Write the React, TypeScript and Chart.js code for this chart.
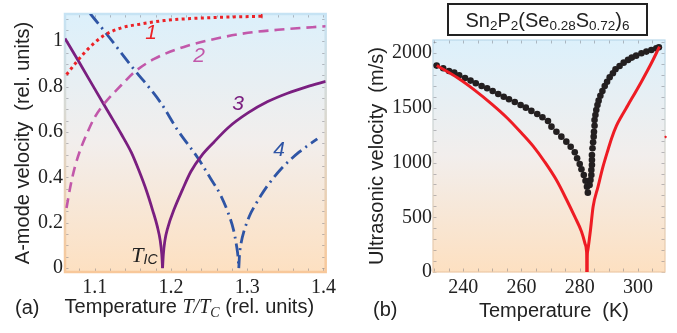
import React, { useEffect, useRef } from "react";
import { Chart, registerables } from "chart.js";
Chart.register(...registerables);

const SANS = "Liberation Sans";
const SERIF = "Liberation Serif";

// ---------------- Panel (a) data ----------------
const aXTicks = [1.1, 1.2, 1.3, 1.4];
const aYTicks = [0, 0.2, 0.4, 0.6, 0.8, 1];

const c1X = [1.063, 1.076, 1.091, 1.111, 1.135, 1.161, 1.191, 1.226, 1.27, 1.319];
const c1Y = [0.853, 0.908, 0.965, 1.023, 1.059, 1.076, 1.091, 1.1, 1.106, 1.11];
const c1TipX = [1.319, 1.3191];
const c1TipY = [1.104, 1.13];

const c2X = [1.063, 1.068, 1.074, 1.082, 1.09, 1.1, 1.113, 1.135, 1.152, 1.178, 1.217, 1.26, 1.301, 1.35, 1.403];
const c2Y = [0.265, 0.359, 0.446, 0.53, 0.595, 0.665, 0.727, 0.807, 0.864, 0.922, 0.975, 1.012, 1.037, 1.053, 1.066];

const c3LX = [1.061, 1.08, 1.1, 1.12, 1.135, 1.148, 1.158, 1.168, 1.176, 1.182, 1.186, 1.188, 1.189];
const c3LY = [1.012, 0.905, 0.79, 0.676, 0.59, 0.51, 0.43, 0.34, 0.255, 0.185, 0.12, 0.06, 0];
const c3RX = [1.189, 1.19, 1.192, 1.196, 1.204, 1.215, 1.226, 1.24, 1.256, 1.275, 1.301, 1.327, 1.353, 1.379, 1.403];
const c3RY = [0, 0.06, 0.12, 0.18, 0.258, 0.345, 0.425, 0.495, 0.554, 0.619, 0.684, 0.734, 0.771, 0.8, 0.823];

const c4LX = [1.094, 1.113, 1.149, 1.187, 1.208, 1.236, 1.252, 1.265, 1.275, 1.282, 1.286, 1.288, 1.289];
const c4LY = [1.122, 1.043, 0.887, 0.727, 0.612, 0.482, 0.395, 0.323, 0.244, 0.17, 0.1, 0.05, 0];
const c4RX = [1.289, 1.29, 1.292, 1.296, 1.303, 1.31, 1.318, 1.327, 1.345, 1.368, 1.392];
const c4RY = [0, 0.06, 0.11, 0.165, 0.23, 0.275, 0.32, 0.365, 0.439, 0.511, 0.57];

const aLabels = ["1", "2", "3", "4"];
const aLabelX = [1.174, 1.237, 1.288, 1.342];
const aLabelY = [1.037, 0.936, 0.724, 0.518];
const aLabelColors = ["#ec2227", "#c258aa", "#7a1f80", "#2f55a5"];
const tIcX = 1.148;
const tIcY = 0.028;

// ---------------- Panel (b) data ----------------
const bXTicks = [240, 260, 280, 300];
const bYTicks = [0, 500, 1000, 1500, 2000];

const redLX = [230.9, 238, 244, 250, 255, 260, 264, 268, 272, 275.5, 278.3, 280.6, 281.8, 282.3, 282.45, 282.5];
const redLY = [1887, 1775, 1660, 1530, 1410, 1270, 1150, 1005, 840, 660, 505, 370, 262, 200, 120, 0];
const redRX = [282.5, 282.55, 282.8, 283.7, 284.6, 286.3, 288, 289.7, 291, 292.6, 294.5, 296.6, 301.2, 304.6, 307.4];
const redRY = [0, 120, 200, 384, 597, 780, 962, 1115, 1225, 1335, 1430, 1526, 1739, 1907, 2059];
const redEdgeX = [309.2, 309.8];
const redEdgeY = [1240, 1228];

const dotT = [230.85, 233.1, 235.1, 236.9, 238.6, 240.6, 242.5, 244.3, 246.3, 248.2, 250.1, 252.0, 253.9, 255.7, 257.7, 259.7, 261.5, 263.4, 265.4, 267.2, 269.1, 270.3, 272.0, 273.7, 275.4, 276.9, 278.3, 279.1, 280.0, 280.6, 281.4, 282.0, 282.5, 282.8,
  283.4, 283.7, 284.0, 284.0, 284.2, 284.2, 284.2, 284.4, 284.6, 284.8, 284.9, 285.1, 285.1, 285.4, 285.7, 286.1, 286.5, 287.1, 287.8, 288.6, 289.4, 290.3, 291.4, 292.3, 293.7, 295.1, 296.6, 297.9, 299.4, 301.2, 302.9, 304.6, 306.3, 307.2];
const dotV = [1886, 1862, 1837, 1822, 1798, 1773, 1749, 1725, 1700, 1679, 1654, 1627, 1602, 1578, 1554, 1526, 1502, 1472, 1444, 1414, 1380, 1328, 1282, 1237, 1191, 1145, 1094, 1039, 987, 939, 887, 834, 780, 725,
  795, 841, 887, 932, 978, 1024, 1069, 1131, 1185, 1237, 1282, 1337, 1389, 1435, 1481, 1526, 1566, 1611, 1654, 1700, 1739, 1780, 1816, 1853, 1883, 1913, 1938, 1959, 1977, 1999, 2014, 2029, 2045, 2054];

// ---------------- helpers ----------------
function pts(xs: number[], ys: number[]) {
  return xs.map((x, i) => ({ x, y: ys[i] }));
}
const fmt = (v: number) => String(Math.round(v * 10) / 10);

type Seg = { t: string; font: string; dy?: number };
function drawRich(ctx: CanvasRenderingContext2D, segs: Seg[], x0: number, baseline: number, color: string, align: "left" | "center") {
  let total = 0;
  for (const s of segs) {
    ctx.font = s.font;
    total += ctx.measureText(s.t).width;
  }
  let x = align === "center" ? x0 - total / 2 : x0;
  ctx.fillStyle = color;
  ctx.textAlign = "left";
  ctx.textBaseline = "alphabetic";
  for (const s of segs) {
    ctx.font = s.font;
    ctx.fillText(s.t, x, baseline + (s.dy || 0));
    x += ctx.measureText(s.t).width;
  }
}

function makeBgPlugin(frameTop: string, frameBottom: string, frameWidth: number, xStep: number, yStep: number) {
  return {
    id: "bgFrame",
    beforeDatasetsDraw(chart: any) {
      const { ctx, chartArea: a, scales } = chart;
      ctx.save();
      const g = ctx.createLinearGradient(0, a.top, 0, a.bottom);
      g.addColorStop(0, "#dcf0fb");
      g.addColorStop(0.5, "#f2eeec");
      g.addColorStop(1, "#fde0c1");
      ctx.fillStyle = g;
      ctx.fillRect(a.left, a.top, a.right - a.left, a.bottom - a.top);
      ctx.strokeStyle = "rgba(110,110,120,0.45)";
      ctx.lineWidth = 1;
      const xs = scales.x, ys = scales.y;
      const x0 = Math.ceil(xs.min / xStep) * xStep;
      ctx.beginPath();
      for (let v = x0; v <= xs.max + 1e-9; v += xStep) {
        const p = Math.round(xs.getPixelForValue(v)) + 0.5;
        ctx.moveTo(p, a.bottom); ctx.lineTo(p, a.bottom - 3.5);
        ctx.moveTo(p, a.top); ctx.lineTo(p, a.top + 3.5);
      }
      const y0 = Math.ceil(ys.min / yStep) * yStep;
      for (let v = y0; v <= ys.max + 1e-9; v += yStep) {
        const p = Math.round(ys.getPixelForValue(v)) + 0.5;
        ctx.moveTo(a.left, p); ctx.lineTo(a.left + 3.5, p);
        ctx.moveTo(a.right, p); ctx.lineTo(a.right - 3.5, p);
      }
      ctx.stroke();
      const fg = ctx.createLinearGradient(0, a.top, 0, a.bottom);
      fg.addColorStop(0, frameTop);
      fg.addColorStop(1, frameBottom);
      ctx.strokeStyle = fg;
      ctx.lineWidth = frameWidth;
      ctx.strokeRect(a.left, a.top, a.right - a.left, a.bottom - a.top);
      ctx.restore();
    },
  };
}

const textA = {
  id: "textA",
  afterDraw(chart: any) {
    const { ctx, chartArea: a, scales } = chart;
    ctx.save();
    const cx = (a.left + a.right) / 2 - 6;
    drawRich(ctx, [
      { t: "Temperature ", font: `20px ${SANS}` },
      { t: "T/T", font: `italic 20px ${SERIF}` },
      { t: "C", font: `italic 14px ${SERIF}`, dy: 4 },
      { t: " (rel. units)", font: `20px ${SANS}` },
    ], cx, 313, "#222", "center");
    drawRich(ctx, [{ t: "(a)", font: `20px ${SANS}` }], 15, 314, "#222", "left");
    ctx.textAlign = "center";
    ctx.textBaseline = "middle";
    ctx.font = `italic 21px ${SANS}`;
    aLabels.forEach((t, i) => {
      ctx.fillStyle = aLabelColors[i];
      ctx.fillText(t, scales.x.getPixelForValue(aLabelX[i]), scales.y.getPixelForValue(aLabelY[i]));
    });
    drawRich(ctx, [
      { t: "T", font: `italic 22px ${SERIF}` },
      { t: "IC", font: `italic 14px ${SANS}`, dy: 2 },
    ], scales.x.getPixelForValue(tIcX), scales.y.getPixelForValue(tIcY), "#222", "left");
    ctx.restore();
  },
};

const textB = {
  id: "textB",
  afterDraw(chart: any) {
    const { ctx, chartArea: a } = chart;
    ctx.save();
    const cx = (a.left + a.right) / 2;
    const bw = 199, bh = 31;
    ctx.fillStyle = "#ffffff";
    ctx.fillRect(cx - 1.5 - bw / 2, 4, bw, bh);
    ctx.strokeStyle = "#222";
    ctx.lineWidth = 2;
    ctx.strokeRect(cx - 1.5 - bw / 2, 4, bw, bh);
    const big = `20px ${SANS}`, sub = `13.5px ${SANS}`;
    drawRich(ctx, [
      { t: "Sn", font: big }, { t: "2", font: sub, dy: 3 },
      { t: "P", font: big }, { t: "2", font: sub, dy: 3 },
      { t: "(Se", font: big }, { t: "0.28", font: sub, dy: 3 },
      { t: "S", font: big }, { t: "0.72", font: sub, dy: 3 },
      { t: ")", font: big }, { t: "6", font: sub, dy: 3 },
    ], cx - 1.5, 27, "#222", "center");
    drawRich(ctx, [{ t: "Temperature  (K)", font: `20px ${SANS}` }], cx + 5, 317, "#222", "center");
    drawRich(ctx, [{ t: "(b)", font: `20px ${SANS}` }], 33, 316, "#222", "left");
    ctx.restore();
  },
};

const tickFont = { family: SERIF, size: 20, style: "normal" as const, weight: "normal" as const };

function axisCommon(ticks: number[], min: number, max: number) {
  return {
    type: "linear" as const,
    min,
    max,
    afterBuildTicks: (s: any) => { s.ticks = ticks.map((v) => ({ value: v })); },
    grid: { display: false, drawTicks: false },
    border: { display: false },
  };
}

export default function App() {
  const refA = useRef<HTMLCanvasElement>(null);
  const refB = useRef<HTMLCanvasElement>(null);

  useEffect(() => {
    const RED = "#ec2227";
    const lineBase = { showLine: true, pointRadius: 0, cubicInterpolationMode: "monotone" as const };
    const chartA = new Chart(refA.current!, {
      type: "scatter",
      data: {
        datasets: [
          { ...lineBase, data: pts(c1X, c1Y), borderColor: RED, borderWidth: 3, borderDash: [3, 3.4] },
          { data: pts(c1TipX, c1TipY), showLine: true, borderColor: RED, borderWidth: 1.5, pointRadius: 0 },
          { ...lineBase, data: pts(c2X, c2Y), borderColor: "#c258aa", borderWidth: 2.6, borderDash: [10, 6] },
          { ...lineBase, data: pts(c3LX, c3LY), borderColor: "#7a1f80", borderWidth: 2.8 },
          { ...lineBase, data: pts(c3RX, c3RY), borderColor: "#7a1f80", borderWidth: 2.8 },
          { ...lineBase, data: pts(c4LX, c4LY), borderColor: "#2f55a5", borderWidth: 2.8, borderDash: [13, 5, 2, 5] },
          { ...lineBase, data: pts(c4RX, c4RY), borderColor: "#2f55a5", borderWidth: 2.8, borderDash: [13, 5, 2, 5] },
        ],
      },
      options: {
        animation: false,
        responsive: false,
        devicePixelRatio: 1,
        events: [],
        layout: { padding: { left: 0, right: 12, top: 9, bottom: 0 } },
        plugins: { legend: { display: false }, tooltip: { enabled: false } },
        scales: {
          x: {
            ...axisCommon(aXTicks, 1.061, 1.403),
            afterFit: (s: any) => { s.height = 61; },
            ticks: { font: tickFont, color: "#222", padding: 4, maxRotation: 0, autoSkip: false, callback: (v: any) => fmt(Number(v)) },
          },
          y: {
            ...axisCommon(aYTicks, -0.017, 1.12),
            afterFit: (s: any) => { s.width = 65; },
            ticks: { font: tickFont, color: "#222", padding: 2, autoSkip: false, callback: (v: any) => fmt(Number(v)) },
            title: { display: true, text: "A-mode velocity  (rel. units)", font: { family: SANS, size: 20 }, color: "#222", padding: { top: 11, bottom: 0 } },
          },
        },
      },
      plugins: [makeBgPlugin("#c6e3f4", "#f8c89a", 2.5, 0.02, 0.05), textA],
    } as any);

    const chartB = new Chart(refB.current!, {
      type: "scatter",
      data: {
        datasets: [
          { ...lineBase, data: pts(redLX, redLY), borderColor: "#ee1c24", borderWidth: 3 },
          { ...lineBase, data: pts(redRX, redRY), borderColor: "#ee1c24", borderWidth: 3 },
          { data: pts(redEdgeX, redEdgeY), showLine: true, borderColor: "#ee1c24", borderWidth: 2, pointRadius: 0, clip: false },
          { data: pts(dotT, dotV), showLine: false, pointRadius: 3.3, pointBorderWidth: 0, backgroundColor: "#231f20", borderColor: "#231f20" },
        ],
      },
      options: {
        animation: false,
        responsive: false,
        devicePixelRatio: 1,
        events: [],
        layout: { padding: { left: 0, right: 12, top: 40, bottom: 0 } },
        plugins: { legend: { display: false }, tooltip: { enabled: false } },
        scales: {
          x: {
            ...axisCommon(bXTicks, 229.6, 309.3),
            afterFit: (s: any) => { s.height = 61; },
            ticks: { font: tickFont, color: "#222", padding: 4, maxRotation: 0, autoSkip: false, callback: (v: any) => String(v) },
          },
          y: {
            ...axisCommon(bYTicks, 0, 2120),
            afterFit: (s: any) => { s.width = 93; },
            ticks: { font: tickFont, color: "#222", padding: 1, autoSkip: false, callback: (v: any) => String(v) },
            title: { display: true, text: "Ultrasonic velocity  (m/s)", font: { family: SANS, size: 20 }, color: "#222", padding: { top: 25, bottom: 0 } },
          },
        },
      },
      plugins: [makeBgPlugin("#b9d8ea", "#ecc9a6", 1.2, 5, 100), textB],
    } as any);

    return () => {
      chartA.destroy();
      chartB.destroy();
    };
  }, []);

  return (
    <div style={{ position: "absolute", left: 0, top: 0, width: 677, height: 333, background: "#fff" }}>
      <canvas ref={refA} width={340} height={333} style={{ position: "absolute", left: 0, top: 0, display: "block" }} />
      <canvas ref={refB} width={337} height={333} style={{ position: "absolute", left: 340, top: 0, display: "block" }} />
    </div>
  );
}
